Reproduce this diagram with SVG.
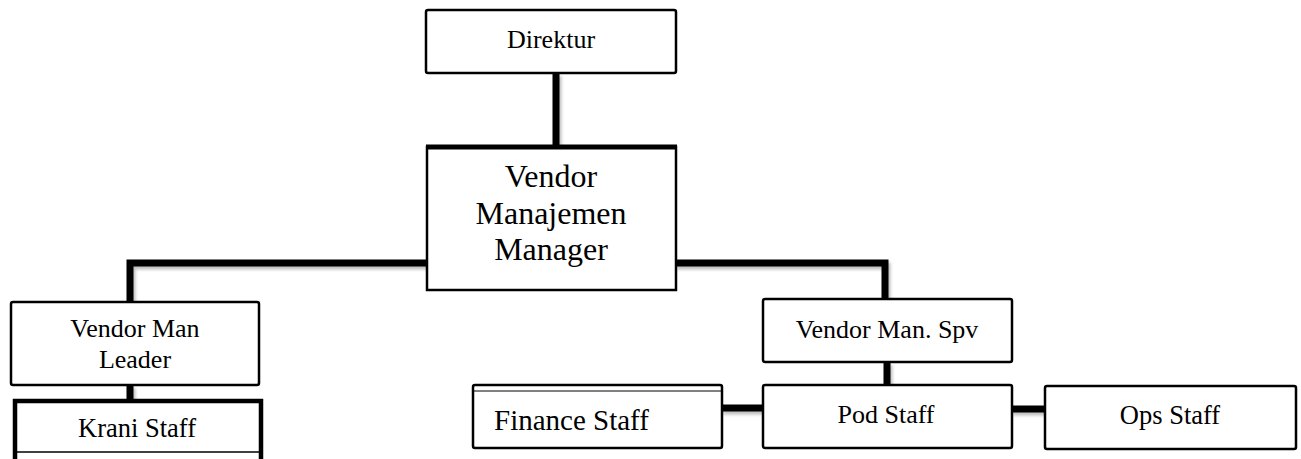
<svg xmlns="http://www.w3.org/2000/svg" width="1301" height="459" viewBox="0 0 1301 459">
<defs>
<filter id="sh" x="-10%" y="-10%" width="130%" height="130%">
<feDropShadow dx="2" dy="3" stdDeviation="1.5" flood-color="#000" flood-opacity="0.25"/>
</filter>
</defs>
<style>
.box{fill:#fff;stroke:#000;stroke-width:2.5}
.t{font-family:"Liberation Serif","Times New Roman",serif;font-size:26px;fill:#000;text-anchor:middle}
.c{stroke:#000;stroke-width:7;fill:none;stroke-linejoin:miter;stroke-linecap:butt}
</style>
<rect width="1301" height="459" fill="#fff"/>
<g id="connectors" filter="url(#sh)">
<line class="c" x1="556" y1="73" x2="556" y2="146"/>
<polyline class="c" points="427,263 130,263 130,302"/>
<polyline class="c" points="675,263 885,263 885,299"/>
<line class="c" x1="130" y1="385" x2="130" y2="400"/>
<line class="c" x1="887" y1="362" x2="887" y2="386"/>
<line class="c" x1="721" y1="408" x2="764" y2="408"/>
<line class="c" x1="1011" y1="409" x2="1046" y2="409"/>
</g>
<g id="direktur">
<rect class="box" x="426" y="10" width="250" height="63" rx="2" stroke-width="3"/>
<text class="t" x="551" y="48">Direktur</text>
</g>
<g id="manager">
<rect class="box" x="427" y="147" width="249" height="143" stroke-width="1.8"/>
<line x1="426" y1="147" x2="677" y2="147" stroke="#000" stroke-width="5"/>
<text class="t" style="font-size:32px" x="551" y="187">Vendor</text>
<text class="t" style="font-size:32px" x="551" y="224">Manajemen</text>
<text class="t" style="font-size:32px" x="551" y="260">Manager</text>
</g>
<g id="leader">
<rect class="box" x="11" y="302" width="248" height="83" rx="2" stroke-width="2"/>
<text class="t" x="135" y="337">Vendor Man</text>
<text class="t" x="135" y="368">Leader</text>
</g>
<g id="krani">
<path d="M15,462 V401 H261 V462" fill="#fff" stroke="#000" stroke-width="4.5"/>
<line x1="15" y1="452" x2="261" y2="452" stroke="#000" stroke-width="1.5"/>
<text class="t" style="font-size:26.5px" x="137" y="437">Krani Staff</text>
</g>
<g id="spv">
<rect class="box" x="763" y="299" width="249" height="63" rx="2"/>
<text class="t" x="887" y="338">Vendor Man. Spv</text>
</g>
<g id="finance">
<rect class="box" x="473" y="385" width="249" height="63" rx="2" stroke-width="3"/>
<line x1="474" y1="391" x2="721" y2="391" stroke="#000" stroke-width="1"/>
<text class="t" style="font-size:29px;text-anchor:start" x="494" y="430">Finance Staff</text>
</g>
<g id="pod">
<rect class="box" x="763" y="385" width="249" height="63" rx="2" stroke-width="3"/>
<text class="t" x="886" y="423">Pod Staff</text>
</g>
<g id="ops">
<rect class="box" x="1045" y="386" width="251" height="63" rx="2" stroke-width="3"/>
<text class="t" style="font-size:26.5px" x="1170" y="424">Ops Staff</text>
</g>
</svg>
